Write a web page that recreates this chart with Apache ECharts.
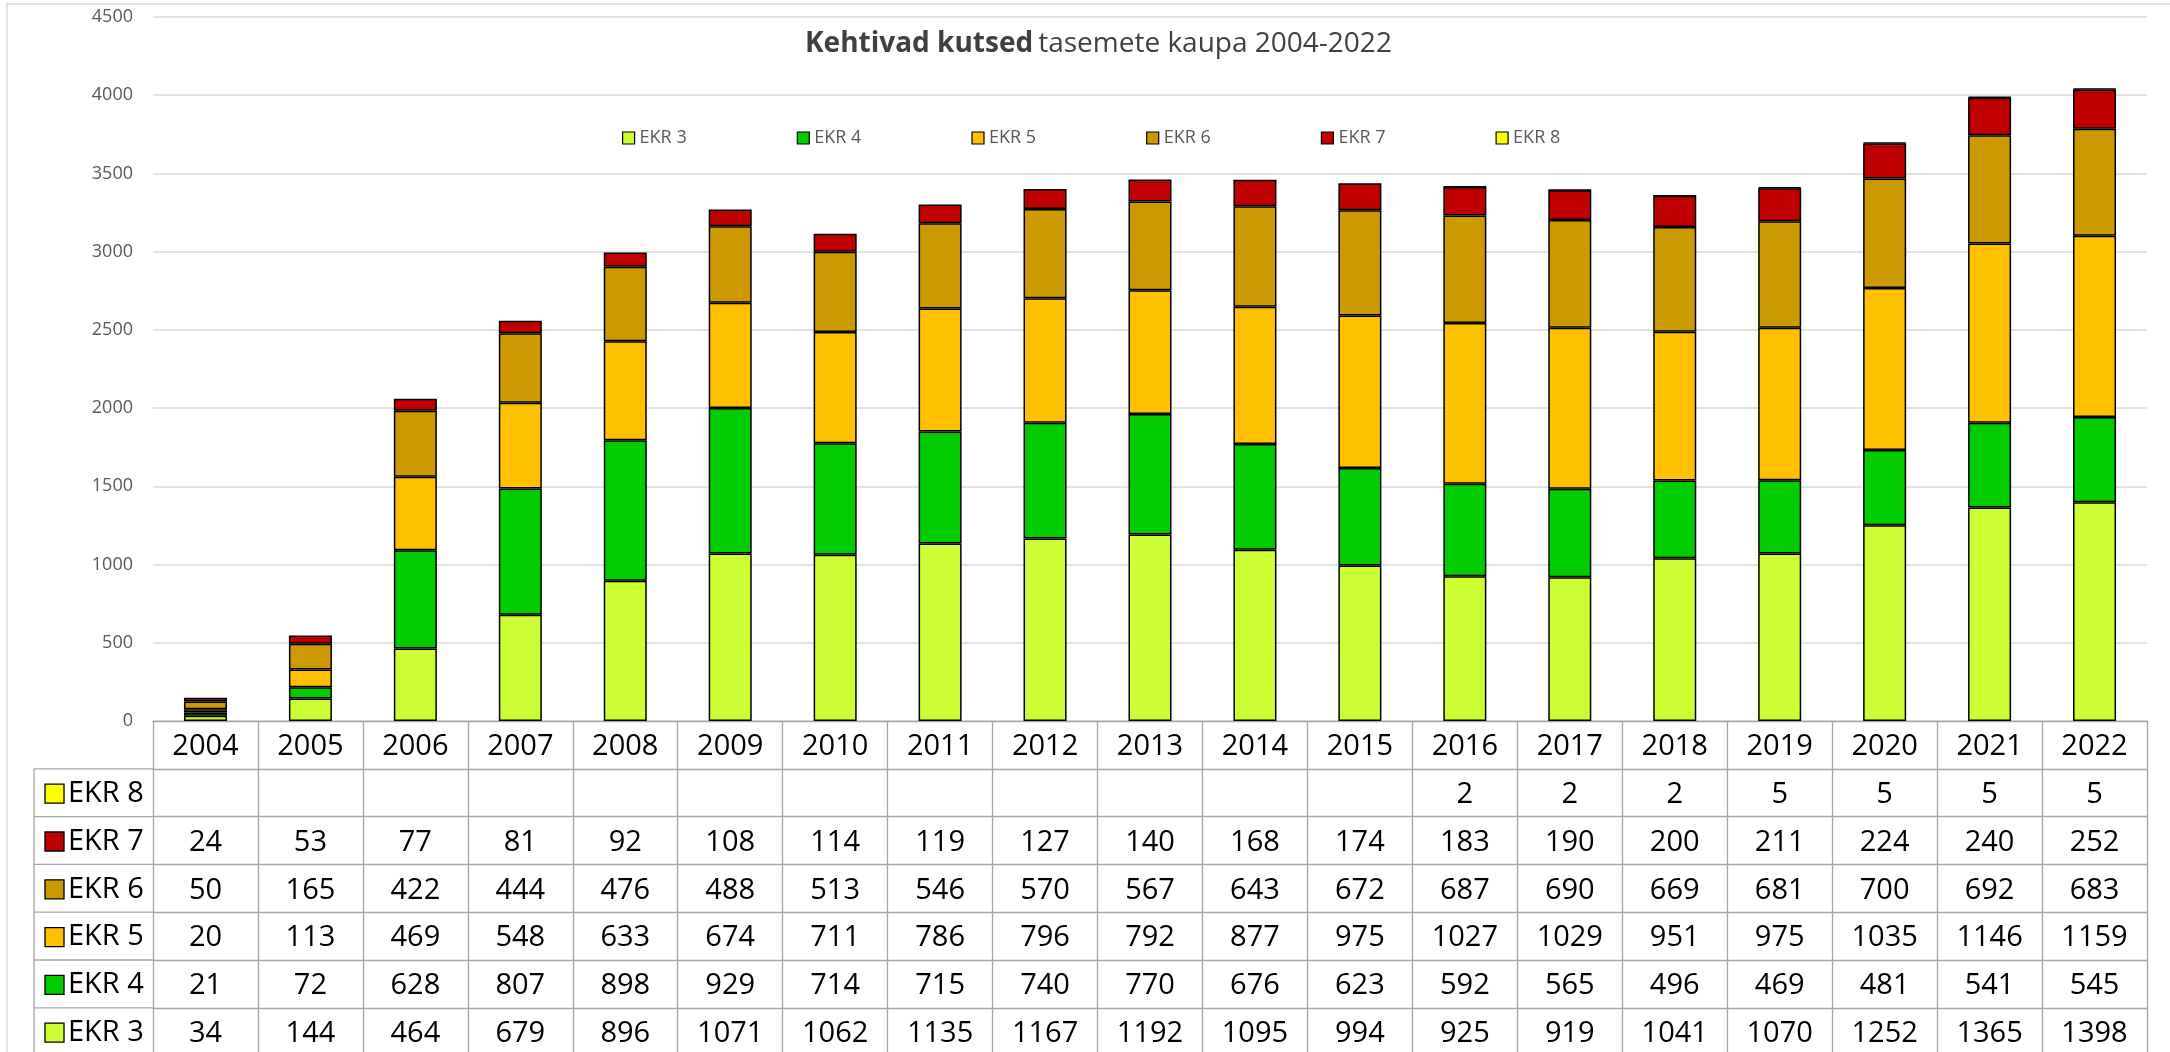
<!DOCTYPE html>
<html>
<head>
<meta charset="utf-8">
<script src="https://cdn.jsdelivr.net/npm/echarts@6/dist/echarts.min.js"></script>
<style>html,body{margin:0;padding:0;background:#fff;}#c{width:2170px;height:1052px;}</style>
</head>
<body>
<div id="c"></div>
<script>
var years = ['2004','2005','2006','2007','2008','2009','2010','2011','2012','2013','2014','2015','2016','2017','2018','2019','2020','2021','2022'];
var ekr3 = [34,144,464,679,896,1071,1062,1135,1167,1192,1095,994,925,919,1041,1070,1252,1365,1398];
var ekr4 = [21,72,628,807,898,929,714,715,740,770,676,623,592,565,496,469,481,541,545];
var ekr5 = [20,113,469,548,633,674,711,786,796,792,877,975,1027,1029,951,975,1035,1146,1159];
var ekr6 = [50,165,422,444,476,488,513,546,570,567,643,672,687,690,669,681,700,692,683];
var ekr7 = [24,53,77,81,92,108,114,119,127,140,168,174,183,190,200,211,224,240,252];
var ekr8 = [null,null,null,null,null,null,null,null,null,null,null,null,2,2,2,5,5,5,5];
var seriesNames = ['EKR 3','EKR 4','EKR 5','EKR 6','EKR 7','EKR 8'];
var yTicks = [0,500,1000,1500,2000,2500,3000,3500,4000,4500];

var colors = ['#ccff33','#00cc00','#ffc000','#cc9900','#c00000','#ffff00'];
var seriesData = [ekr3, ekr4, ekr5, ekr6, ekr7, ekr8];
var FONT = 'Open Sans';
var GL = 153, GR = 2147, G0 = 721, RH = 47.8;
var TFS = 29;
var TABLE_LINE = '#a6a6a6';

var chart = echarts.init(document.getElementById('c'));

// table rows top to bottom: EKR 8 ... EKR 3
var tableOrder = [5,4,3,2,1,0];

var xAxes = [{
  type: 'category', data: years, gridIndex: 0, position: 'bottom', offset: 0,
  axisLine: {show: true, lineStyle: {color: TABLE_LINE, width: 1.3}},
  axisTick: {show: true, interval: 0, length: RH * 7, lineStyle: {color: TABLE_LINE, width: 1.3}},
  axisLabel: {interval: 0, margin: 0, color: '#000', fontFamily: FONT, fontSize: TFS, lineHeight: RH, verticalAlign: 'top', padding: [2, 0, 0, 0]},
  splitLine: {show: false}
}];
tableOrder.forEach(function (si, k) {
  var vals = seriesData[si];
  xAxes.push({
    type: 'category', data: years, gridIndex: 0, position: 'bottom', offset: RH * (k + 1),
    axisLine: {show: true, lineStyle: {color: TABLE_LINE, width: 1.3}},
    axisTick: {show: false},
    axisLabel: {interval: 0, margin: 0, color: '#000', fontFamily: FONT, fontSize: TFS, lineHeight: RH, verticalAlign: 'top', padding: [2, 0, 0, 0],
      formatter: function (v, idx) { var x = vals[idx]; return (x === null || x === undefined) ? '' : String(x); }},
    splitLine: {show: false}
  });
});

var graphics = [
  {type: 'rect', shape: {x: 7, y: 4, width: 2200, height: 1100}, style: {fill: 'none', stroke: '#d9d9d9', lineWidth: 1.5}, silent: true}
];
// legend column of the table
var LX = 34;
for (var k = 1; k <= 7; k++) {
  var yy = G0 + RH * k;
  graphics.push({type: 'line', shape: {x1: LX, y1: yy, x2: GL, y2: yy}, style: {stroke: TABLE_LINE, lineWidth: 1.3}, silent: true});
}
graphics.push({type: 'line', shape: {x1: LX, y1: G0 + RH, x2: LX, y2: G0 + RH * 8}, style: {stroke: TABLE_LINE, lineWidth: 1.3}, silent: true});
tableOrder.forEach(function (si, k) {
  var cy = G0 + RH * (k + 1) + RH / 2 + 1;
  graphics.push({type: 'rect', shape: {x: 45, y: cy - 9.5, width: 19, height: 19}, style: {fill: colors[si], stroke: '#000', lineWidth: 1.3}, silent: true});
  graphics.push({type: 'text', x: 68, y: cy, style: {text: seriesNames[si], fill: '#000', font: TFS + 'px "' + FONT + '"', verticalAlign: 'middle', textAlign: 'left'}, silent: true});
});

var series = seriesNames.map(function (n, i) {
  return {
    name: n, type: 'bar', stack: 'total', data: seriesData[i], barWidth: '41%',
    xAxisIndex: 0, yAxisIndex: 0,
    itemStyle: {color: colors[i], borderColor: '#000', borderWidth: 1.5},
    emphasis: {disabled: true}
  };
});

chart.setOption({
  animation: false,
  backgroundColor: '#fff',
  title: {
    text: '{b|Kehtivad kutsed} {r|tasemete kaupa 2004-2022}',
    left: 800, top: 25,
    textStyle: {fontWeight: 'normal', rich: {
      b: {fontFamily: FONT, fontSize: 28, fontWeight: 'bold', color: '#404040'},
      r: {fontFamily: FONT, fontSize: 28, fontWeight: 'normal', color: '#404040'}
    }}
  },
  legend: {
    data: seriesNames, left: 617, top: 124, itemGap: 110, itemWidth: 12, itemHeight: 12,
    icon: 'rect',
    itemStyle: {borderColor: '#000', borderWidth: 1.2},
    textStyle: {fontFamily: FONT, fontSize: 18, color: '#595959', width: 50},
    selectedMode: false
  },
  grid: {left: GL, right: 2170 - GR, top: 17, bottom: 1052 - G0, containLabel: false, outerBoundsMode: 'none'},
  xAxis: xAxes,
  yAxis: {
    type: 'value', min: yTicks[0], max: yTicks[yTicks.length - 1], interval: 500,
    axisLine: {show: false}, axisTick: {show: false},
    axisLabel: {margin: 20, color: '#595959', fontFamily: FONT, fontSize: 18, formatter: function (v) { return String(v); }},
    splitLine: {lineStyle: {color: '#d9d9d9', width: 1.5}}
  },
  graphic: graphics,
  series: series
});
</script>
</body>
</html>
